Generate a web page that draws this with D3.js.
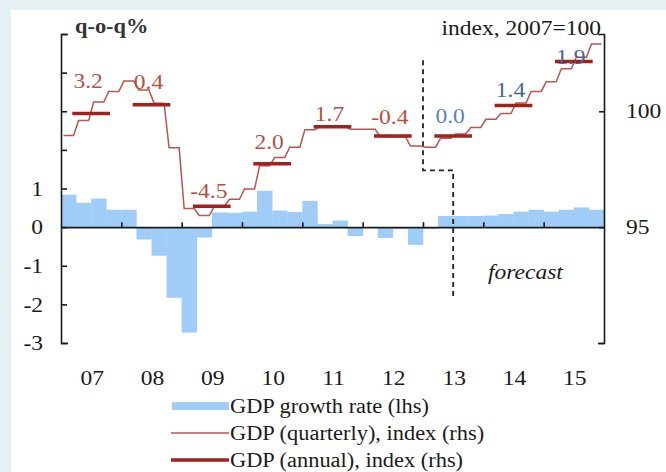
<!DOCTYPE html>
<html>
<head>
<meta charset="utf-8">
<script src="https://cdn.jsdelivr.net/npm/d3@7"></script>
<style>
  body { margin: 0; background: #e5f1f4; }
  svg { display: block; font-family: "Liberation Serif", "Times New Roman", serif; }
  .tick text { font-size: 21px; fill: #1a1a1a; font-family: "Liberation Serif", serif; }
  .axis path, .axis line { stroke: #1a1a1a; stroke-width: 1.6; }
</style>
</head>
<body>
<svg id="chart"></svg>
<script>
// DATA
const years = ['07', '08', '09', '10', '11', '12', '13', '14', '15'];
const quarters = years.flatMap(y => ['Q1', 'Q2', 'Q3', 'Q4'].map(q => y + q));
// q-o-q growth, %, lhs
const growth = [0.84, 0.63, 0.74, 0.45,
                0.45, -0.32, -0.74, -1.83,
                -2.73, -0.27, 0.38, 0.37,
                0.40, 0.94, 0.43, 0.39,
                0.68, 0.08, 0.17, -0.23,
                -0.02, -0.28, -0.05, -0.46,
                -0.05, 0.29, 0.29, 0.29,
                0.30, 0.34, 0.40, 0.45,
                0.40, 0.45, 0.51, 0.45];
// quarterly GDP index, 2007=100, rhs
const indexQ = [98.95, 99.6, 100.4, 100.85,
                101.3, 100.92, 100.35, 98.42,
                95.8, 95.5, 95.9, 96.2,
                96.65, 97.65, 98.0, 98.45,
                99.2, 99.35, 99.35, 99.22,
                99.22, 98.9, 98.9, 98.5,
                98.45, 98.84, 99.02, 99.3,
                99.65, 99.9, 100.36, 100.85,
                101.27, 101.83, 102.33, 102.9];
// annual GDP index, rhs
const indexA = [99.9, 100.28, 95.9, 97.74, 99.33, 98.93, 98.93, 100.25, 102.15];
const annualGrowth = ['3.2', '0.4', '-4.5', '2.0', '1.7', '-0.4', '0.0', '1.4', '1.9'];
const leftTicks = [-3, -2, -1, 0, 1, 2, 3, 4, 5];
const rightTicks = [90, 95, 100];

// LAYOUT / STYLE
const width = 666, height = 472;
const plot = {left: 61, right: 604, top: 34, bottom: 343};
const labelLift = [33, 23, 15, 22, 13, 19, 20, 15, 4];
const labelColor = ['#b5513f', '#b5513f', '#b5513f', '#b5513f', '#b5513f', '#b5513f', '#5b83bb', '#46648f', '#46648f'];
const forecast = {q1: 24, q2: 26, top: 102.2, step: 97.45, bottom: 92.0};
const stretch = 1.12; // the source type is set a little wider than Liberation Serif

const svg = d3.select('#chart').attr('width', width).attr('height', height);
svg.append('rect').attr('x', 11).attr('y', 10).attr('width', width - 11).attr('height', height - 10).attr('fill', '#fff');

const xq = d3.scaleLinear().domain([0, quarters.length]).range([plot.left, plot.right]);
const yL = d3.scaleLinear().domain([-3, 5]).range([plot.bottom, plot.top]);
const yR = d3.scaleLinear().domain([90, 90 + 8 * 5 / 3]).range([plot.bottom, plot.top]);

// bars
svg.append('g').selectAll('rect')
  .data(growth)
  .join('rect')
    .attr('x', (d, i) => xq(i))
    .attr('width', (d, i) => xq(i + 1) - xq(i) + 0.3)
    .attr('y', d => yL(Math.max(0, d)))
    .attr('height', d => Math.abs(yL(d) - yL(0)))
    .attr('fill', '#9fcdf7');

// axes
svg.append('g').attr('class', 'axis')
  .attr('transform', `translate(${plot.left},0)`)
  .call(d3.axisLeft(yL).tickValues(leftTicks).tickSizeInner(-6).tickSizeOuter(-7).tickPadding(18)
    .tickFormat(d => d <= 1 ? d : ''));

svg.append('g').attr('class', 'axis')
  .attr('transform', `translate(${plot.right},0)`)
  .call(d3.axisRight(yR).tickValues(rightTicks).tickSizeInner(-5).tickSizeOuter(-6).tickPadding(22)
    .tickFormat(d => d === 90 ? '' : d));

svg.append('g').attr('class', 'axis')
  .attr('transform', `translate(0,${yL(0)})`)
  .call(d3.axisBottom(xq).tickValues(d3.range(4, quarters.length, 4)).tickSizeInner(-5).tickSizeOuter(0).tickFormat(''));

svg.append('g').selectAll('text')
  .data(years)
  .join('text')
    .attr('x', (d, i) => xq(i * 4 + 2) + 1)
    .attr('y', 385)
    .attr('text-anchor', 'middle')
    .attr('font-size', 21)
    .attr('fill', '#1a1a1a')
    .text(d => d);

// forecast marker
svg.append('path')
  .attr('d', d3.line()([[xq(forecast.q1), yR(forecast.top)], [xq(forecast.q1), yR(forecast.step)],
                        [xq(forecast.q2), yR(forecast.step)], [xq(forecast.q2), yR(forecast.bottom)]]))
  .attr('fill', 'none').attr('stroke', '#222').attr('stroke-width', 1.8).attr('stroke-dasharray', '5,4');

// quarterly index, drawn on a monthly grid
const monthly = indexQ.flatMap((v, i) => [0.5, 1.5, 2.5].map(m => [i + m / 3, v]));
svg.append('path')
  .datum(monthly)
  .attr('d', d3.line().x(d => xq(d[0])).y(d => yR(d[1])))
  .attr('fill', 'none').attr('stroke', '#b8564b').attr('stroke-width', 1.5);

// annual index
svg.append('g').selectAll('line')
  .data(indexA)
  .join('line')
    .attr('x1', (d, i) => xq(i * 4 + 0.75))
    .attr('x2', (d, i) => xq(i * 4 + 3.25))
    .attr('y1', d => yR(d))
    .attr('y2', d => yR(d))
    .attr('stroke', '#a0211d').attr('stroke-width', 3.5);

svg.append('g').selectAll('text')
  .data(annualGrowth)
  .join('text')
    .attr('x', (d, i) => xq(i * 4 + 2) - 3)
    .attr('y', (d, i) => yR(indexA[i]) - labelLift[i] + 7)
    .attr('text-anchor', 'middle')
    .attr('font-size', 21)
    .attr('fill', (d, i) => labelColor[i])
    .text(d => d);

// axis titles
svg.append('text').attr('x', 75).attr('y', 33).attr('font-size', 20).attr('font-weight', 'bold')
  .attr('fill', '#333').text('q-o-q%');
svg.append('text').attr('x', 601).attr('y', 35).attr('text-anchor', 'end').attr('font-size', 21).attr('fill', '#1a1a1a').text('index, 2007=100');
svg.append('text').attr('x', 488).attr('y', 279).attr('font-size', 21).attr('font-style', 'italic').attr('fill', '#1a1a1a').text('forecast');

// legend
const legend = [
  {name: 'GDP growth rate (lhs)', type: 'bar'},
  {name: 'GDP (quarterly), index (rhs)', type: 'thin'},
  {name: 'GDP (annual), index (rhs)', type: 'thick'}
];
const lg = svg.append('g').selectAll('g')
  .data(legend)
  .join('g')
    .attr('transform', (d, i) => `translate(171,${406 + i * 27})`);
lg.filter(d => d.type === 'bar').append('rect')
  .attr('x', 1).attr('y', -4).attr('width', 57).attr('height', 8).attr('fill', '#9fcdf7');
lg.filter(d => d.type !== 'bar').append('line')
  .attr('x1', 0).attr('x2', 58).attr('y1', 0).attr('y2', 0)
  .attr('stroke', d => d.type === 'thin' ? '#b8564b' : '#a0211d')
  .attr('stroke-width', d => d.type === 'thin' ? 1.6 : 3.5);
lg.append('text')
  .attr('x', 59).attr('y', 7)
  .attr('font-size', 20)
  .attr('fill', '#1a1a1a')
  .text(d => d.name);

// widen every label a touch
svg.selectAll('text').each(function() {
  const len = this.getComputedTextLength();
  if (len > 0) d3.select(this).attr('textLength', len * stretch).attr('lengthAdjust', 'spacingAndGlyphs');
});
</script>
</body>
</html>
